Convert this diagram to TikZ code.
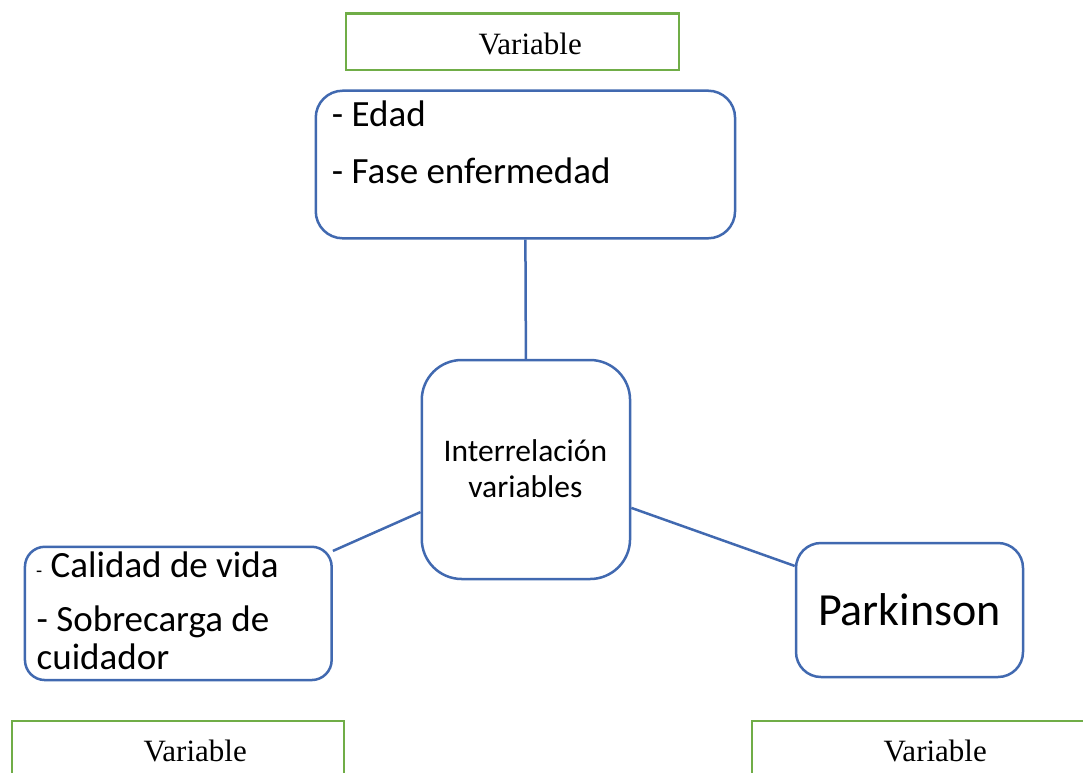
\documentclass[tikz,border=0pt]{standalone}
\usepackage{fontspec}
\setmainfont{Carlito}
\newfontfamily\tnr{Liberation Serif}
\definecolor{blu}{HTML}{4169B0}
\definecolor{grn}{HTML}{70AD47}
\tikzset{
  varbox/.style={draw=grn,line width=2.4pt,inner sep=0pt,fill=white},
  bluebox/.style={draw=blu,line width=2.5pt,inner sep=0pt,fill=white},
  link/.style={draw=blu,line width=2.5pt},
  txt/.style={inner sep=0pt,anchor=base west},
  vartxt/.style={inner sep=0pt,anchor=base west,font=\tnr\fontsize{31}{36}\selectfont},
  big/.style={font=\fontsize{37}{44}\selectfont}
}
\begin{document}
\begin{tikzpicture}[x=1pt,y=-1pt]
\clip (0,0) rectangle (1083,772);
\fill[white] (0,0) rectangle (1083,772);
% boxes
\node[varbox,minimum width=333pt,minimum height=56.7pt] (vtop) at (512.4,41.7) {};
\node[bluebox,rounded corners=27pt,minimum width=419.3pt,minimum height=147.6pt] (top) at (525.4,164.5) {};
\node[bluebox,rounded corners=40pt,minimum width=208.3pt,minimum height=219pt] (ctr) at (525.9,469.5) {};
\node[bluebox,rounded corners=20pt,minimum width=306.7pt,minimum height=133.3pt] (lb) at (178.3,613.4) {};
\node[bluebox,rounded corners=25pt,minimum width=227pt,minimum height=134pt] (rb) at (909.5,610) {};
\node[varbox,minimum width=332.3pt,minimum height=78.6pt] (vbl) at (177.9,760) {};
\node[varbox,minimum width=358pt,minimum height=78.6pt] (vbr) at (931,760) {};
% connectors
\draw[link] (top.south) -- (ctr.north);
\draw[link] (ctr.202.5) -- (lb.22.8);
\draw[link] (ctr.-20.3) -- (rb.159.9);
% texts
\node[vartxt] (tv1) at (478.3,54.3) {Variable};
\node[vartxt] (tv2) at (143.3,761.7) {Variable};
\node[vartxt] (tv3) at (883.3,761.7) {Variable};
\node[txt,big] (e1) at (331.7,126.7) {- Edad};
\node[txt,big] (e2) at (331.7,183.3) {- Fase enfermedad};
\node[inner sep=0pt,anchor=base,font=\fontsize{31.5}{36}\selectfont] (c1) at (525.4,461) {Interrelación};
\node[inner sep=0pt,anchor=base,font=\fontsize{31.5}{36}\selectfont] (c2) at (525.4,497) {variables};
\node[txt,font=\fontsize{20}{24}\selectfont] (l0) at (36,577) {-};
\node[txt,big] (l1) at (50.5,577) {Calidad de vida};
\node[txt,big] (l2) at (36.5,631.7) {- Sobrecarga de};
\node[txt,big] (l3) at (36.5,669) {cuidador};
\node[inner sep=0pt,anchor=base,font=\fontsize{46}{54}\selectfont] (pk) at (909.5,625) {Parkinson};
\end{tikzpicture}
\end{document}
